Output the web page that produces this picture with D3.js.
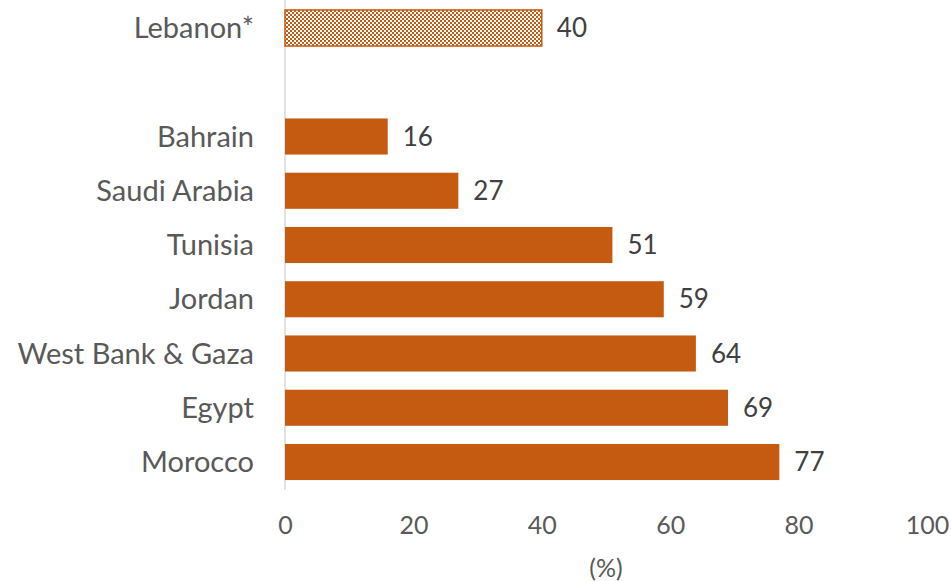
<!DOCTYPE html>
<html><head><meta charset="utf-8">
<script src="https://cdn.jsdelivr.net/npm/d3@7"></script>
<style>body{margin:0;background:#fff}svg{display:block}</style>
</head><body>
<svg id="c" width="951" height="581"></svg>
<script>
const categories = ["Lebanon*", "", "Bahrain", "Saudi Arabia", "Tunisia", "Jordan", "West Bank & Gaza", "Egypt", "Morocco"];
const values = [40, null, 16, 27, 51, 59, 64, 69, 77];
const patterned = ["Lebanon*"];
const xTicks = [0, 20, 40, 60, 80, 100];
const axisTitle = "(%)";

const svg = d3.select("#c");
const font = "Lato, 'Open Sans', sans-serif";
const x = d3.scaleLinear().domain([0, 100]).range([285, 927]);
const y = d3.scaleBand().domain(categories).range([1, 489]).paddingInner(0.335).paddingOuter(0.165);

const defs = svg.append("defs");
const pat = defs.append("pattern").attr("id", "chk").attr("patternUnits", "userSpaceOnUse")
  .attr("width", 4).attr("height", 4);
pat.append("rect").attr("width", 4).attr("height", 4).attr("fill", "#fff");
pat.append("rect").attr("x", 0).attr("y", 0).attr("width", 2).attr("height", 2).attr("fill", "#C55A11");
pat.append("rect").attr("x", 2).attr("y", 2).attr("width", 2).attr("height", 2).attr("fill", "#C55A11");

// axis line
svg.append("line").attr("x1", x(0)).attr("x2", x(0)).attr("y1", 0).attr("y2", 490)
  .attr("stroke", "#D9D9D9").attr("stroke-width", 1.5);

const data = categories.map((c, i) => ({c, v: values[i]})).filter(d => d.v != null);

svg.selectAll("rect.bar").data(data).join("rect").attr("class", "bar")
  .attr("x", x(0)).attr("y", d => y(d.c))
  .attr("width", d => x(d.v) - x(0)).attr("height", y.bandwidth())
  .attr("fill", d => patterned.includes(d.c) ? "url(#chk)" : "#C55A11")
  .attr("stroke", d => patterned.includes(d.c) ? "#C55A11" : "none")
  .attr("stroke-width", 1.5);

svg.selectAll("text.val").data(data).join("text").attr("class", "val")
  .attr("x", d => x(d.v) + 15).attr("y", d => y(d.c) + y.bandwidth() / 2)
  .attr("dy", "0.35em").attr("font-family", font).attr("font-size", 26).attr("fill", "#404040")
  .text(d => d.v);

svg.selectAll("text.cat").data(categories.filter(c => c)).join("text").attr("class", "cat")
  .attr("x", 254).attr("y", d => y(d) + y.bandwidth() / 2).attr("dy", "0.35em")
  .attr("text-anchor", "end").attr("font-family", font).attr("font-size", 29).attr("fill", "#595959")
  .text(d => d);

const ax = svg.append("g").attr("transform", "translate(0,525)")
  .call(d3.axisBottom(x).tickValues(xTicks).tickSize(0).tickPadding(0));
ax.select(".domain").remove();
ax.selectAll("text").attr("font-family", font).attr("font-size", 25).attr("fill", "#595959")
  .attr("dy", "0.35em");

svg.append("text").attr("x", x(50)).attr("y", 568).attr("dy", "0.35em").attr("text-anchor", "middle")
  .attr("font-family", font).attr("font-size", 25).attr("fill", "#595959").text(axisTitle);
</script>
</body></html>
